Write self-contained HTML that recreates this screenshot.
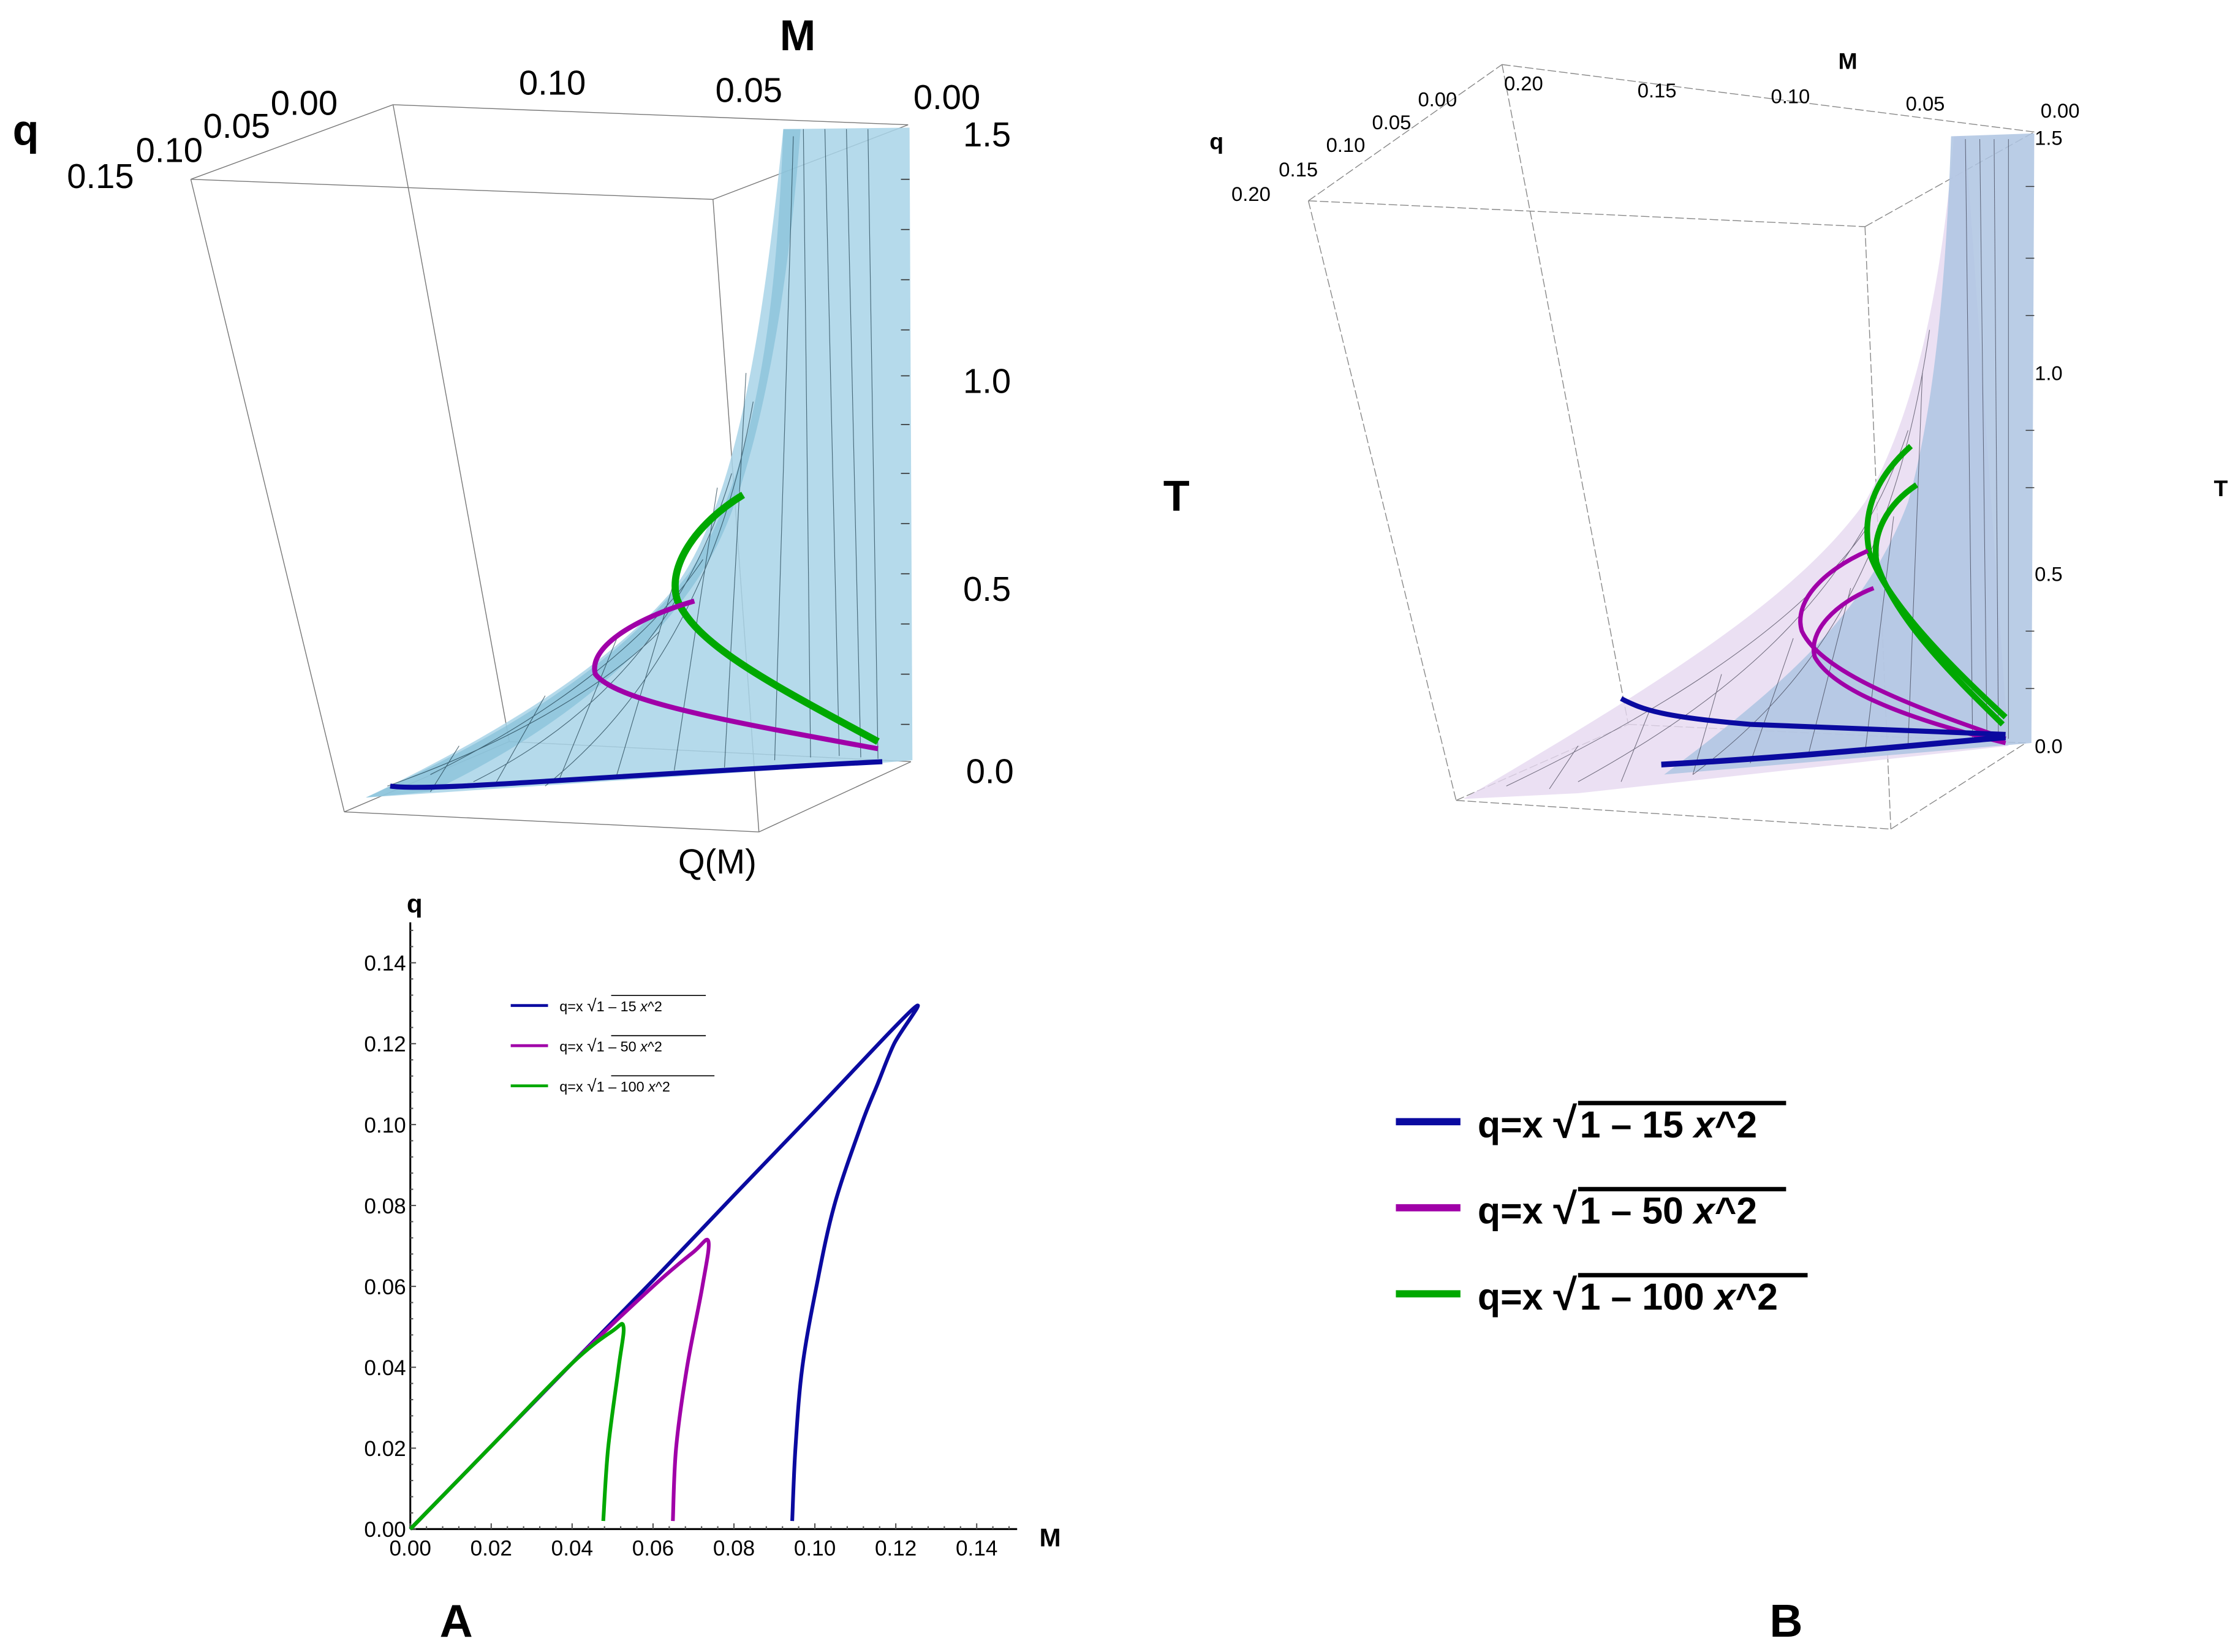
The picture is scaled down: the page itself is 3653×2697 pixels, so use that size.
<!DOCTYPE html>
<html><head><meta charset="utf-8"><style>
html,body{margin:0;padding:0;background:#fff;}
svg{display:block;}
text{font-family:"Liberation Sans",sans-serif;}
</style></head><body>
<svg id="fig" width="3653" height="2697" viewBox="0 0 1560 1151.7" preserveAspectRatio="none" xmlns="http://www.w3.org/2000/svg">
<rect x="0" y="0" width="1560" height="1152" fill="#fff"/>

<!-- LEFT 3D PLOT -->
<g>
  <g stroke="#777" stroke-width="0.6" fill="none">
    <line x1="274" y1="73" x2="633" y2="87"/>
    <line x1="133" y1="125" x2="274" y2="73"/>
    <line x1="133" y1="125" x2="497" y2="139"/>
    <line x1="497" y1="139" x2="633" y2="87"/>
    <line x1="133" y1="125" x2="240" y2="566"/>
    <line x1="274" y1="73" x2="355" y2="517"/>
    <line x1="497" y1="139" x2="529" y2="580"/>
    <line x1="240" y1="566" x2="529" y2="580"/>
    <line x1="529" y1="580" x2="635" y2="531"/>
    <line x1="355" y1="517" x2="635" y2="531"/>
    <line x1="240" y1="566" x2="355" y2="517"/>
  </g>
  <path d="M546,90 L634,89 L636,530 L612,532 L255,556 C330,520 420,470 470,410 C510,355 530,250 546,90 Z" fill="#a8d4e8" fill-opacity="0.85"/>
  <path d="M546,90 C540,250 520,340 480,400 C440,450 380,500 255,556 L300,552 C400,505 470,440 500,380 C530,320 550,200 558,90Z" fill="#7fbdd6" fill-opacity="0.6"/>
  <g stroke="#1a3a4a" stroke-width="0.5" fill="none" opacity="0.7">
    <path d="M560,90 L565,528"/><path d="M575,90 L585,527"/><path d="M590,90 L600,528"/><path d="M605,90 L612,529"/><path d="M553,95 L540,530"/>
    <path d="M520,260 L505,535"/><path d="M500,340 L470,537"/><path d="M470,405 L430,540"/><path d="M430,445 L390,543"/><path d="M380,485 L345,547"/><path d="M320,520 L300,552"/>
    <path d="M270,548 C350,520 420,480 460,440"/><path d="M300,540 C380,500 450,450 490,390"/><path d="M330,545 C420,500 480,430 510,330"/>
    <path d="M380,548 C440,500 500,420 525,280"/>
  </g>
  <g stroke="#333" stroke-width="0.7">
    <line x1="634" y1="125" x2="628" y2="125"/><line x1="634" y1="160" x2="628" y2="160"/><line x1="634" y1="195" x2="628" y2="195"/><line x1="634" y1="230" x2="628" y2="230"/><line x1="634" y1="262" x2="628" y2="262"/><line x1="634" y1="296" x2="628" y2="296"/><line x1="634" y1="330" x2="628" y2="330"/><line x1="634" y1="365" x2="628" y2="365"/><line x1="634" y1="400" x2="628" y2="400"/><line x1="634" y1="435" x2="628" y2="435"/><line x1="634" y1="470" x2="628" y2="470"/><line x1="634" y1="505" x2="628" y2="505"/>
  </g>
  <path d="M518,345 C485,365 465,395 472,418 C485,450 540,478 612,517" stroke="#00a800" stroke-width="5" fill="none"/>
  <path d="M484,419 C440,432 410,452 415,470 C430,490 520,505 612,522" stroke="#a000a8" stroke-width="3.5" fill="none"/>
  <path d="M272,548 C300,552 400,542 615,531" stroke="#0a0aa0" stroke-width="3.5" fill="none"/>
  <text x="556" y="35" font-size="30" font-weight="bold" text-anchor="middle">M</text>
  <text x="385" y="66" font-size="24" text-anchor="middle">0.10</text>
  <text x="522" y="71" font-size="24" text-anchor="middle">0.05</text>
  <text x="660" y="76" font-size="24" text-anchor="middle">0.00</text>
  <text x="18" y="101" font-size="30" font-weight="bold" text-anchor="middle">q</text>
  <text x="70" y="131" font-size="24" text-anchor="middle">0.15</text>
  <text x="118" y="113" font-size="24" text-anchor="middle">0.10</text>
  <text x="165" y="96" font-size="24" text-anchor="middle">0.05</text>
  <text x="212" y="80" font-size="24" text-anchor="middle">0.00</text>
  <text x="688" y="102" font-size="24" text-anchor="middle">1.5</text>
  <text x="688" y="274" font-size="24" text-anchor="middle">1.0</text>
  <text x="688" y="419" font-size="24" text-anchor="middle">0.5</text>
  <text x="690" y="546" font-size="24" text-anchor="middle">0.0</text>
  <text x="500" y="609" font-size="24" text-anchor="middle">Q(M)</text>
  <text x="820" y="356" font-size="30" font-weight="bold" text-anchor="middle">T</text>
</g>

<!-- RIGHT 3D PLOT -->
<g>
  <g stroke="#888" stroke-width="0.6" fill="none" stroke-dasharray="6,2">
    <line x1="1047" y1="45" x2="1418" y2="92"/>
    <line x1="912" y1="140" x2="1047" y2="45"/>
    <line x1="912" y1="140" x2="1300" y2="158"/>
    <line x1="1300" y1="158" x2="1418" y2="92"/>
    <line x1="912" y1="140" x2="1015" y2="558"/>
    <line x1="1047" y1="45" x2="1135" y2="505"/>
    <line x1="1300" y1="158" x2="1318" y2="578"/>
    <line x1="1015" y1="558" x2="1318" y2="578"/>
    <line x1="1318" y1="578" x2="1412" y2="518"/>
    <line x1="1015" y1="558" x2="1135" y2="505"/>
    <line x1="1135" y1="505" x2="1412" y2="518"/>
  </g>
  <path d="M1362,95 L1370,95 L1400,520 L1100,553 L1020,557 C1150,480 1250,420 1300,350 C1340,280 1355,180 1362,95Z" fill="#e6d8f0" fill-opacity="0.8"/>
  <path d="M1360,95 L1418,93 L1416,518 L1160,540 C1240,480 1300,430 1330,350 C1350,280 1357,180 1360,95Z" fill="#aec4e2" fill-opacity="0.85"/>
  <g stroke="#223" stroke-width="0.45" fill="none" opacity="0.6">
    <path d="M1370,97 L1375,515"/><path d="M1380,97 L1385,515"/><path d="M1390,97 L1393,515"/><path d="M1400,97 L1400,515"/>
    <path d="M1340,260 L1330,520"/><path d="M1320,360 L1300,525"/><path d="M1290,410 L1260,528"/><path d="M1250,445 L1220,532"/>
    <path d="M1200,470 L1180,540"/><path d="M1150,495 L1130,545"/><path d="M1100,520 L1080,550"/>
    <path d="M1050,548 C1150,500 1250,440 1300,370"/><path d="M1100,545 C1200,490 1290,420 1330,300"/><path d="M1180,540 C1260,480 1320,400 1345,230"/>
  </g>
  <g stroke="#333" stroke-width="0.6">
    <line x1="1418" y1="130" x2="1412" y2="130"/><line x1="1418" y1="180" x2="1412" y2="180"/><line x1="1418" y1="220" x2="1412" y2="220"/><line x1="1418" y1="300" x2="1412" y2="300"/><line x1="1418" y1="340" x2="1412" y2="340"/><line x1="1418" y1="440" x2="1412" y2="440"/><line x1="1418" y1="480" x2="1412" y2="480"/>
  </g>
  <path d="M1332,311 C1305,335 1298,360 1303,385 C1315,420 1360,465 1398,500" stroke="#00a800" stroke-width="4" fill="none"/>
  <path d="M1336,338 C1315,352 1305,372 1308,392 C1320,430 1360,470 1396,505" stroke="#00a800" stroke-width="4" fill="none"/>
  <path d="M1302,384 C1270,398 1250,420 1256,440 C1270,470 1340,495 1398,515" stroke="#a000a8" stroke-width="3" fill="none"/>
  <path d="M1306,410 C1280,420 1260,440 1265,458 C1280,485 1345,505 1398,518" stroke="#a000a8" stroke-width="3" fill="none"/>
  <path d="M1130,487 C1145,495 1160,500 1220,505 C1300,508 1360,510 1398,512" stroke="#0a0aa0" stroke-width="3.5" fill="none"/>
  <path d="M1158,533 C1250,528 1330,520 1398,514" stroke="#0a0aa0" stroke-width="4" fill="none"/>
  <text x="1288" y="48" font-size="16" font-weight="bold" text-anchor="middle">M</text>
  <text x="1062" y="63" font-size="14" text-anchor="middle">0.20</text>
  <text x="1155" y="68" font-size="14" text-anchor="middle">0.15</text>
  <text x="1248" y="72" font-size="14" text-anchor="middle">0.10</text>
  <text x="1342" y="77" font-size="14" text-anchor="middle">0.05</text>
  <text x="1436" y="82" font-size="14" text-anchor="middle">0.00</text>
  <text x="848" y="104" font-size="16" font-weight="bold" text-anchor="middle">q</text>
  <text x="872" y="140" font-size="14" text-anchor="middle">0.20</text>
  <text x="905" y="123" font-size="14" text-anchor="middle">0.15</text>
  <text x="938" y="106" font-size="14" text-anchor="middle">0.10</text>
  <text x="970" y="90" font-size="14" text-anchor="middle">0.05</text>
  <text x="1002" y="74" font-size="14" text-anchor="middle">0.00</text>
  <text x="1428" y="101" font-size="14" text-anchor="middle">1.5</text>
  <text x="1428" y="265" font-size="14" text-anchor="middle">1.0</text>
  <text x="1428" y="405" font-size="14" text-anchor="middle">0.5</text>
  <text x="1428" y="525" font-size="14" text-anchor="middle">0.0</text>
  <text x="1548" y="346" font-size="16" font-weight="bold" text-anchor="middle">T</text>
</g>

<!-- BIG LEGEND -->
<g font-weight="bold" font-size="26">
  <g>
    <line x1="973" y1="782" x2="1018" y2="782" stroke="#0a0aa0" stroke-width="5"/>
    <text x="1030" y="793">q=x <tspan font-size="30">√</tspan><tspan dx="2">1 – 15 </tspan><tspan font-style="italic">x</tspan>^2</text>
    <line x1="1100" y1="769" x2="1245" y2="769" stroke="#000" stroke-width="3"/>
  </g>
  <g>
    <line x1="973" y1="842" x2="1018" y2="842" stroke="#a000a8" stroke-width="5"/>
    <text x="1030" y="853">q=x <tspan font-size="30">√</tspan><tspan dx="2">1 – 50 </tspan><tspan font-style="italic">x</tspan>^2</text>
    <line x1="1100" y1="829" x2="1245" y2="829" stroke="#000" stroke-width="3"/>
  </g>
  <g>
    <line x1="973" y1="902" x2="1018" y2="902" stroke="#00a800" stroke-width="5"/>
    <text x="1030" y="913">q=x <tspan font-size="30">√</tspan><tspan dx="2">1 – 100 </tspan><tspan font-style="italic">x</tspan>^2</text>
    <line x1="1100" y1="889" x2="1260" y2="889" stroke="#000" stroke-width="3"/>
  </g>
</g>

<!-- 2D CHART -->
<g id="chart2d"></g>
<g font-size="10">
  <g>
    <line x1="356" y1="701" x2="382" y2="701" stroke="#0a0aa0" stroke-width="2"/>
    <text x="390" y="705">q=x <tspan font-size="12">√</tspan>1 – 15 <tspan font-style="italic">x</tspan>^2</text>
    <line x1="426" y1="694" x2="492" y2="694" stroke="#000" stroke-width="0.7"/>
  </g>
  <g>
    <line x1="356" y1="729" x2="382" y2="729" stroke="#a000a8" stroke-width="2"/>
    <text x="390" y="733">q=x <tspan font-size="12">√</tspan>1 – 50 <tspan font-style="italic">x</tspan>^2</text>
    <line x1="426" y1="722" x2="492" y2="722" stroke="#000" stroke-width="0.7"/>
  </g>
  <g>
    <line x1="356" y1="757" x2="382" y2="757" stroke="#00a800" stroke-width="2"/>
    <text x="390" y="761">q=x <tspan font-size="12">√</tspan>1 – 100 <tspan font-style="italic">x</tspan>^2</text>
    <line x1="426" y1="750" x2="498" y2="750" stroke="#000" stroke-width="0.7"/>
  </g>
</g>
<text x="318" y="1141" font-family="Liberation Serif, serif" font-size="32" font-weight="bold" text-anchor="middle">A</text>
<text x="1245" y="1141" font-family="Liberation Serif, serif" font-size="32" font-weight="bold" text-anchor="middle">B</text>
</svg>
<script>
const xTicks = [0, 0.02, 0.04, 0.06, 0.08, 0.10, 0.12, 0.14];
const yTicks = [0, 0.02, 0.04, 0.06, 0.08, 0.10, 0.12, 0.14];
const tickLabels = ["0.00","0.02","0.04","0.06","0.08","0.10","0.12","0.14"];
const blueM = [0.0944, 0.0952, 0.0969, 0.1004, 0.1048, 0.1115, 0.1155, 0.1196, 0.1246, 0.100, 0.080, 0.060, 0.040, 0.020, 0];
const blueQ = [0.002, 0.02, 0.04, 0.06, 0.08, 0.10, 0.110, 0.120, 0.1289, 0.1033, 0.0825, 0.0615, 0.041, 0.0205, 0];
const magentaM = [0.0649, 0.0657, 0.0684, 0.0722, 0.0737, 0.070, 0.060, 0.040, 0.020, 0];
const magentaQ = [0.002, 0.02, 0.04, 0.06, 0.0711, 0.0685, 0.0600, 0.041, 0.0205, 0];
const greenM = [0.0477, 0.0489, 0.0515, 0.0527, 0.050, 0.040, 0.020, 0];
const greenQ = [0.002, 0.02, 0.04, 0.050, 0.049, 0.041, 0.0205, 0];

const NS = "http://www.w3.org/2000/svg";
const g = document.getElementById('chart2d');
const x0 = 286, y0 = 1066, unit = 56.4 / 0.02;
function xS(v){ return x0 + v * unit; }
function yS(v){ return y0 - v * unit; }
function mk(tag, attrs){ const e = document.createElementNS(NS, tag); for (const k in attrs) e.setAttribute(k, attrs[k]); g.appendChild(e); return e; }

const xAxis = mk('line', {x1: xS(0), y1: y0, x2: xS(0.15), y2: y0, stroke: '#000', 'stroke-width': 1.3});


const yAxis = mk('line', {x1: x0, y1: yS(0), x2: x0, y2: yS(0.15), stroke: '#000', 'stroke-width': 1.3});



for (let i = 0; i <= 37; i++) {
  const v = i * 0.004;
  if (v > 0.1501) break;
  const major = Math.abs(v / 0.02 - Math.round(v / 0.02)) < 1e-6;
  const L = major ? 4 : 2;
  const tx = mk('line', {x1: xS(v), y1: y0, x2: xS(v), y2: y0 - L, stroke: '#555', 'stroke-width': 0.9});
  
  
  const ty = mk('line', {x1: x0, y1: yS(v), x2: x0 + L, y2: yS(v), stroke: '#555', 'stroke-width': 0.9});
  
  
}
xTicks.forEach((v, i) => {
  const t = mk('text', {x: xS(v), y: y0 + 18.5, 'font-size': 15, 'text-anchor': 'middle'});
  t.textContent = tickLabels[i];
  
  
});
yTicks.forEach((v, i) => {
  const t = mk('text', {x: x0 - 3, y: yS(v) + 5.5, 'font-size': 15, 'text-anchor': 'end'});
  t.textContent = tickLabels[i];
  
  
});
const xt = mk('text', {x: 732, y: 1078, 'font-size': 18, 'font-weight': 'bold', 'text-anchor': 'middle'});
xt.textContent = 'M';


const yt = mk('text', {x: 289, y: 636, 'font-size': 18, 'font-weight': 'bold', 'text-anchor': 'middle'});
yt.textContent = 'q';



function series(ms, qs, color, name){
  const P = ms.map((m, i) => [xS(m), yS(qs[i])]);
  let d = 'M' + P[0][0].toFixed(2) + ',' + P[0][1].toFixed(2);
  for (let i = 0; i < P.length - 1; i++) {
    const p0 = P[Math.max(i - 1, 0)], p1 = P[i], p2 = P[i + 1], p3 = P[Math.min(i + 2, P.length - 1)];
    const c1 = [p1[0] + (p2[0] - p0[0]) / 6, p1[1] + (p2[1] - p0[1]) / 6];
    const c2 = [p2[0] - (p3[0] - p1[0]) / 6, p2[1] - (p3[1] - p1[1]) / 6];
    d += ' C' + c1[0].toFixed(2) + ',' + c1[1].toFixed(2) + ' ' + c2[0].toFixed(2) + ',' + c2[1].toFixed(2) + ' ' + p2[0].toFixed(2) + ',' + p2[1].toFixed(2);
  }
  const p = mk('path', {d: d, stroke: color, 'stroke-width': 2.6, fill: 'none', 'stroke-linejoin': 'round'});
  
  
}
series(blueM, blueQ, '#0a0aa0', 'blue-curve-15');
series(magentaM, magentaQ, '#a000a8', 'magenta-curve-50');
series(greenM, greenQ, '#00a800', 'green-curve-100');
</script>
</body></html>
